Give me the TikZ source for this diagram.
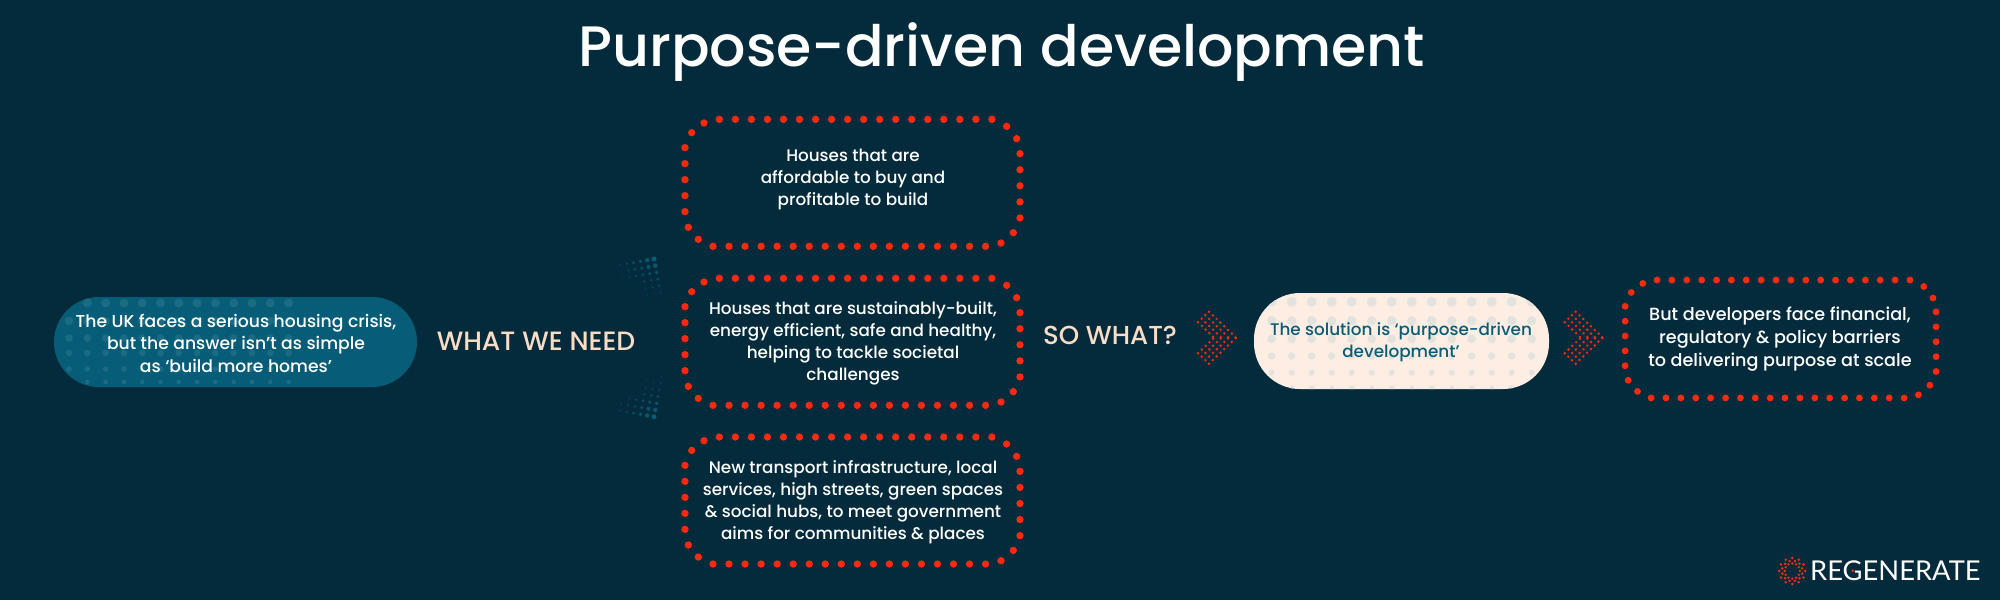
\documentclass[tikz,border=0pt]{standalone}
\usepackage{fontspec}
\setmainfont{Poppins}
\newfontfamily\medfont{Poppins Medium}
\newfontfamily\logofont{Lato}
\definecolor{bgc}{HTML}{032B3B}
\definecolor{redd}{HTML}{FF2A0D}
\definecolor{tealc}{HTML}{075D78}
\definecolor{tealdot}{HTML}{1B6B84}
\definecolor{creamc}{HTML}{FDEDE2}
\definecolor{creamdot}{HTML}{E3E3DE}
\definecolor{labelc}{HTML}{FBDCC4}
\tikzset{
  boxtext/.style={text=white,align=center,font=\medfont\fontsize{16.8}{22}\selectfont},
  pilltext/.style={align=center,font=\medfont\fontsize{17.2}{22.5}\selectfont},
  biglabel/.style={text=labelc,font=\medfont\fontsize{26.5}{30}\selectfont},
  pillshape/.style={rounded corners=45pt,inner sep=0pt}
}
% ring of red dots: outline measured in thirds of a pixel
\newcommand{\dotring}[3]{%
\begin{scope}[shift={(#1,#2)},scale=#3,fill=redd]
\foreach \i in {0,...,17} {
  \fill ({148+48.1*\i},25) circle[radius=11];
  \fill ({129+48.1*\i},406) circle[radius=11];
}
\foreach \i in {0,...,4} {
  \fill (1050,{128+48.2*\i}) circle[radius=11];
  \fill (45,{110+48*\i}) circle[radius=11];
}
\foreach \x/\y in {1010/46,1040/83,1030/365,993/396,85/385,55/349,65/65,102/36}
  \fill (\x,\y) circle[radius=11];
\end{scope}}
% chevron of small red dots
\newcommand{\chev}[1]{%
\foreach \i in {0,...,7} \foreach \j in {0,...,3} {
  \pgfmathtruncatemacro{\s}{\i+\j}
  \ifnum\s<8
    \fill[redd] ({#1+3.8*\i-3.67*\j},{311.7+3.65*\i+3.5*\j}) circle[radius=1.35];
    \fill[redd] ({#1+3.8*\i-3.67*\j},{363.7-3.65*\i-3.5*\j}) circle[radius=1.35];
  \fi
}}
% fan of teal dots; #1 = corner y, #2 = direction
\newcommand{\fan}[2]{%
\foreach \c in {0,...,7} \foreach \r in {0,...,6} {
  \pgfmathtruncatemacro{\m}{max(\c,\r)}
  \pgfmathtruncatemacro{\n}{min(\c,\r)}
  \ifnum\n<3
    \pgfmathsetmacro{\rad}{max(0.45,2.5-0.3*\m-0.12*\n)}
    \pgfmathtruncatemacro{\mixv}{max(25,100-10*\m-6*\n)}
    \fill[tealc!\mixv!bgc] ({654+1.3*\r-6.8*\c},{#1+#2*(6.7*\r+1.2*\c)}) circle[radius=\rad];
  \fi
}}
\begin{document}
\begin{tikzpicture}[x=1pt,y=-1pt]
\useasboundingbox (0,0) rectangle (2000,600);
\fill[bgc] (0,0) rectangle (2000,600);
\node[text=white,anchor=base,font=\medfont\fontsize{57}{70}\selectfont,inner sep=0pt] (title) at (1001.7,66.7) {Purpose-driven development};
\dotring{670}{111}{0.33333}
\dotring{670}{270}{0.33333}
\dotring{670}{428.7}{0.33333}
\dotring{1611.2}{272.3}{0.3094}
\node[boxtext] (b1) at (853,179.5) {Houses that are\\affordable to buy and\\profitable to build};
\node[boxtext] (b2) at (853,343) {Houses that are sustainably-built,\\energy efficient, safe and healthy,\\helping to tackle societal\\challenges};
\node[boxtext] (b3) at (853,502) {New transport infrastructure, local\\services, high streets, green spaces\\\& social hubs, to meet government\\aims for communities \& places};
\node[boxtext,font=\medfont\fontsize{17.6}{23}\selectfont] (b4) at (1780,339.5) {But developers face financial,\\regulatory \& policy barriers\hspace*{4.5pt}\\to delivering purpose at scale};
\node[biglabel] (need) at (536,341) {WHAT WE NEED};
\node[biglabel,font=\medfont\fontsize{26}{30}\selectfont] (sowhat) at (1110,335) {SO WHAT?};
\fan{259}{1}
\fan{416.7}{-1}
\node[pillshape,fill=tealc,minimum width=363pt,minimum height=90pt,path picture={
  \foreach \y/\r in {303/4.5,321/4.2,338/3.8,353/3.3,369/2.8,382/2.3}
   \foreach \i in {0,...,12}
    \fill[tealdot] ({69+18.3*\i-235.5},{\y-342}) circle[radius=\r];
}] (ukshape) at (235.5,342) {};
\node[pilltext,text=white] (uk) at (236,343) {The UK faces a serious housing crisis,\\but the answer isn’t as simple\\as ‘build more homes’};
\node[pillshape,fill=creamc,rounded corners=46pt,minimum width=295pt,minimum height=96pt,path picture={
  \foreach \y/\r in {301.7/5,320.7/4.7,339/4.3,356/3.7,372.7/3,387.7/2.5}
   \foreach \i in {0,...,13}
    \fill[creamdot] ({1271.7+20*\i-1401.5},{\y-341}) circle[radius=\r];
}] (solshape) at (1401.5,341) {};
\node[pilltext,text=tealc,font=\medfont\fontsize{16.8}{22.3}\selectfont] (sol) at (1401,342.5) {The solution is ‘purpose-driven\\development’};
\chev{1209}
\chev{1575.7}
% logo
\foreach \a in {0,30,...,330} {
  \fill[redd] (1792.3,571) ++(\a:13) circle[radius=1.4];
  \fill[redd] (1792.3,571) ++(\a+15:10.2) circle[radius=1.4];
  \fill[redd] (1792.3,571) ++(\a:7.6) circle[radius=1.3];
}
\node[text=white,anchor=base west,inner sep=0pt,font=\logofont\fontsize{27.3}{30}\selectfont] (logo) at (1810,580) {REGENERATE};
\fill[redd] (1852.7,570.7) circle[radius=1.4];
\end{tikzpicture}
\end{document}
